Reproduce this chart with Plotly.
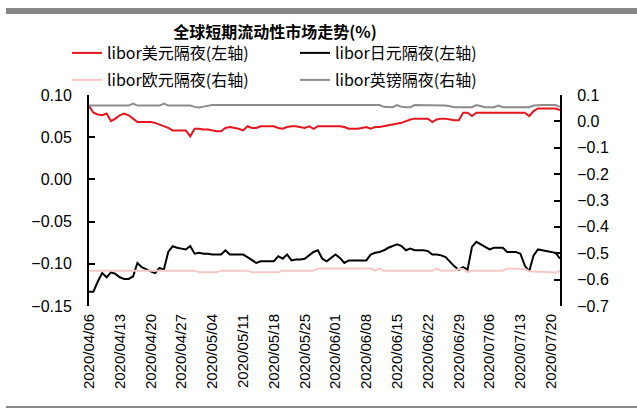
import pandas as pd
import plotly.graph_objects as go

# ---- data (daily, 2020-04-06 .. 2020-07-22) ----
dates = pd.date_range("2020-04-06", "2020-07-22", freq="D")

usd = [0.087, 0.079, 0.077, 0.076, 0.078, 0.069, 0.072, 0.076, 0.078, 0.076,
       0.072, 0.068, 0.068, 0.068, 0.068, 0.067, 0.065, 0.063, 0.061, 0.058,
       0.058, 0.058, 0.058, 0.051, 0.060, 0.060, 0.059, 0.059, 0.058, 0.057,
       0.057, 0.061, 0.062, 0.061, 0.060, 0.058, 0.063, 0.061, 0.061, 0.063,
       0.063, 0.063, 0.063, 0.061, 0.060, 0.062, 0.063, 0.063, 0.062, 0.061,
       0.063, 0.060, 0.063, 0.063, 0.063, 0.063, 0.063, 0.063, 0.062, 0.060,
       0.060, 0.060, 0.061, 0.062, 0.060, 0.062, 0.062, 0.063, 0.064, 0.065,
       0.066, 0.067, 0.069, 0.071, 0.072, 0.072, 0.072, 0.072, 0.068, 0.071,
       0.072, 0.072, 0.071, 0.070, 0.070, 0.079, 0.079, 0.075, 0.079, 0.079,
       0.079, 0.079, 0.079, 0.079, 0.079, 0.079, 0.079, 0.079, 0.079, 0.079,
       0.075, 0.081, 0.084, 0.084, 0.084, 0.084, 0.084, 0.082]

jpy = [-0.133, -0.133, -0.121, -0.111, -0.116, -0.110, -0.112, -0.116, -0.118, -0.118,
       -0.115, -0.099, -0.104, -0.107, -0.109, -0.111, -0.105, -0.107, -0.086, -0.079,
       -0.081, -0.082, -0.083, -0.079, -0.088, -0.087, -0.088, -0.088, -0.089, -0.089,
       -0.089, -0.084, -0.089, -0.089, -0.089, -0.089, -0.092, -0.096, -0.099, -0.097,
       -0.097, -0.097, -0.097, -0.091, -0.094, -0.089, -0.096, -0.095, -0.095, -0.094,
       -0.090, -0.086, -0.084, -0.094, -0.097, -0.093, -0.089, -0.093, -0.099, -0.096,
       -0.096, -0.096, -0.096, -0.096, -0.089, -0.087, -0.086, -0.084, -0.081, -0.079,
       -0.077, -0.079, -0.084, -0.082, -0.084, -0.084, -0.084, -0.085, -0.089, -0.089,
       -0.090, -0.092, -0.098, -0.103, -0.107, -0.104, -0.107, -0.080, -0.074, -0.077,
       -0.081, -0.083, -0.081, -0.081, -0.081, -0.086, -0.086, -0.086, -0.088, -0.102,
       -0.109, -0.090, -0.083, -0.084, -0.085, -0.086, -0.087, -0.094]

eur = [-0.566] * 25 + [-0.572] * 5 + [-0.566] * 7 + [-0.572] * 7 + [-0.566] * 8 + \
      [-0.558] * 13 + [-0.566, -0.558] + [-0.566] * 12 + [-0.558] + [-0.566] * 4 + \
      [-0.560, -0.560, -0.572] + [-0.566] * 8 + [-0.558] * 4 + \
      [-0.560, -0.568, -0.570, -0.570, -0.570, -0.570, -0.572, -0.574, -0.566]

gbp = [0.060] * 10 + [0.067] + [0.060] * 6 + [0.067] + [0.060] * 6 + \
      [0.055, 0.053, 0.056, 0.059] + [0.062] * 39 + [0.055, 0.054, 0.054, 0.062, 0.055, 0.054, 0.054] + \
      [0.062] * 7 + [0.060, 0.057] + [0.054] * 5 + [0.062, 0.058, 0.054, 0.054, 0.054, 0.060] + \
      [0.054] * 7 + [0.060] + [0.062] * 5 + [0.055]

names = ["libor美元隔夜(左轴)", "libor日元隔夜(左轴)", "libor欧元隔夜(右轴)", "libor英镑隔夜(右轴)"]
colors = ["#E8141E", "#000000", "#F6C9C9", "#8C8C8C"]
title_text = "全球短期流动性市场走势(%)"

n = len(dates)
usd, jpy, eur, gbp = usd[:n], jpy[:n], eur[:n], gbp[:n]

fig = go.Figure()
fig.add_trace(go.Scatter(x=dates, y=usd, name=names[0], mode="lines", legend="legend",
                         line=dict(color=colors[0], width=2), yaxis="y", xaxis="x"))
fig.add_trace(go.Scatter(x=dates, y=jpy, name=names[1], mode="lines", legend="legend",
                         line=dict(color=colors[1], width=2), yaxis="y", xaxis="x"))
fig.add_trace(go.Scatter(x=dates, y=eur, name=names[2], mode="lines", legend="legend2",
                         line=dict(color=colors[2], width=2), yaxis="y2", xaxis="x"))
fig.add_trace(go.Scatter(x=dates, y=gbp, name=names[3], mode="lines", legend="legend2",
                         line=dict(color=colors[3], width=2), yaxis="y2", xaxis="x"))

W, H = 637, 408
L, R, T, B = 89, 77, 95, 102
pw, ph = W - L - R, H - T - B

def px(xp):
    return (xp - L) / pw

def py(yp):
    return (H - B - yp) / ph

tickfont = dict(family="Liberation Sans, Arial, sans-serif", size=16, color="#000000")
legfont = dict(family="Noto Sans CJK SC", size=16, color="#000000")
xr = ["2020-04-06", "2020-07-22"]
week = 7 * 86400000

fig.update_layout(
    width=W, height=H,
    margin=dict(l=L, r=R, t=T, b=B, autoexpand=False),
    paper_bgcolor="white", plot_bgcolor="white",
    title=dict(text="<b>" + title_text + "</b>", x=275 / W, xref="container", xanchor="center",
               y=1 - 32 / H, yref="container", yanchor="middle",
               font=dict(family="Noto Sans CJK SC", size=16, color="#000000")),
    showlegend=True,
    legend=dict(orientation="h", x=px(67), xanchor="left", y=py(53), yanchor="middle",
                entrywidth=183, entrywidthmode="pixels", font=legfont,
                bgcolor="rgba(0,0,0,0)"),
    legend2=dict(orientation="h", x=px(67), xanchor="left", y=py(80), yanchor="middle",
                 entrywidth=183, entrywidthmode="pixels", font=legfont,
                 bgcolor="rgba(0,0,0,0)"),
    xaxis=dict(type="date", range=xr, tick0="2020-04-06", dtick=week,
               tickformat="%Y/%m/%d", tickangle=-90, ticks="", showline=False,
               showgrid=False, zeroline=False,
               tickfont=dict(family="Liberation Sans, Arial, sans-serif", size=15, color="#000000"),
               ticklabelstandoff=4),
    xaxis2=dict(type="date", range=xr, tick0="2020-04-06", dtick=week,
                overlaying="x", anchor="free", position=0.6, side="bottom",
                showline=True, linecolor="#000000", linewidth=2,
                ticks="inside", ticklen=6, tickwidth=2, tickcolor="#000000",
                showticklabels=False, showgrid=False, zeroline=False),
    yaxis=dict(range=[-0.15, 0.10], tick0=0, dtick=0.05, tickformat=".2f",
               showline=True, linecolor="#000000", linewidth=2,
               ticks="inside", ticklen=6, tickwidth=2, tickcolor="#000000",
               showgrid=False, zeroline=False, tickfont=tickfont, ticklabelstandoff=12),
    yaxis2=dict(range=[-0.7, 0.1], tick0=0, dtick=0.1, tickformat=".1f",
                overlaying="y", side="right", anchor="x",
                showline=True, linecolor="#000000", linewidth=2,
                ticks="inside", ticklen=6, tickwidth=2, tickcolor="#000000",
                showgrid=False, zeroline=False, tickfont=tickfont, ticklabelstandoff=12),
    shapes=[
        dict(type="rect", xref="paper", yref="paper", x0=px(6), x1=px(640), y0=py(14), y1=py(8),
             fillcolor="#878787", line=dict(width=0), layer="above"),
        dict(type="line", xref="paper", yref="paper", x0=px(6), x1=px(640), y0=py(407), y1=py(407),
             line=dict(color="#878787", width=2), layer="above"),
    ],
)

fig.write_html("out.html", config={"displayModeBar": False},
               post_script="document.body.style.margin='0px';")
